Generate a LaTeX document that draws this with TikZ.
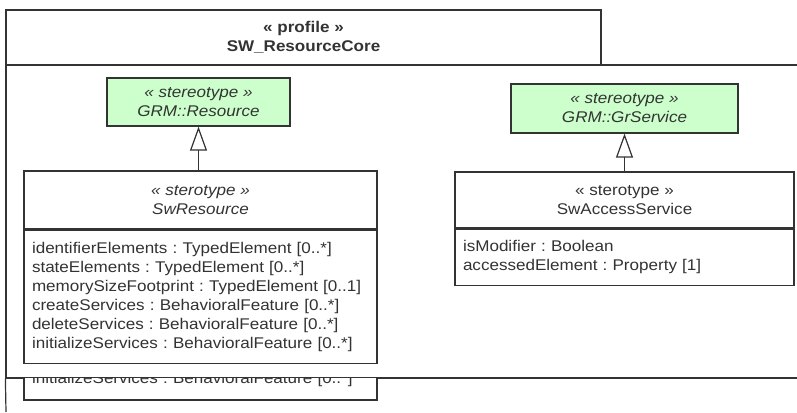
\documentclass[tikz,border=0pt]{standalone}
\usepackage{fontspec}
\setmainfont[FakeStretch=1.1]{Liberation Sans}
\usetikzlibrary{arrows.meta}
\frenchspacing

\begin{document}
\begin{tikzpicture}[
    x=1pt, y=-1pt,
    font=\fontsize{15.5}{19}\selectfont,
    frame/.style={rectangle, draw=black!80, line width=1.2pt, fill=white, text=black!80, align=center, inner sep=0pt},
    stereo/.style={rectangle, draw=black!80, line width=1.3pt, fill=green!20, text=black!80, align=center, font=\fontsize{15.5}{19}\selectfont\itshape},
    head/.style={rectangle, draw=black!80, line width=1.3pt, fill=white, text=black!80, align=center},
    attrs/.style={rectangle, draw=black!80, line width=1.3pt, fill=white, text=black!80, align=left, inner xsep=8pt},
    gen/.style={line width=1.2pt, draw=black!80, -{Triangle[open, length=24pt, width=17pt]}}
]
\clip (0,0) rectangle (797,412);
\fill[white] (0,0) rectangle (797,412);

% --- Profile frame ---
\node (body) at (408,221.5) [frame, minimum width=804pt, minimum height=313pt] {};
\node (tab) at (303.5,37.5) [frame, minimum width=595pt, minimum height=55pt, font=\fontsize{15.5}{19}\selectfont\bfseries] {« profile »\\ SW\_ResourceCore};
\coordinate (frame_end) at (6,412);

% --- Stereotypes ---
\node (grm_res) at (198.5,102) [stereo, minimum width=183pt, minimum height=48pt] {« stereotype »\\ GRM::Resource};
\node (grm_srv) at (624.5,108.5) [stereo, minimum width=227pt, minimum height=49pt] {« stereotype »\\ GRM::GrService};

% SwResource
\node (swres_head) at (200.5,200) [head, minimum width=353pt, minimum height=58pt, font=\fontsize{15.5}{19}\selectfont\itshape] {« sterotype »\\ SwResource};
\node (swres_attr) at (swres_head.south) [attrs, anchor=north, minimum width=353pt, minimum height=133pt, text width=337pt] {identifierElements : TypedElement [0..*]\\ stateElements : TypedElement [0..*]\\ memorySizeFootprint : TypedElement [0..1]\\ createServices : BehavioralFeature [0..*]\\ deleteServices : BehavioralFeature [0..*]\\ initializeServices : BehavioralFeature [0..*]};

% SwAccessService
\node (swacc_head) at (624.5,200) [head, minimum width=339pt, minimum height=56pt] {« sterotype »\\ SwAccessService};
\node (swacc_attr) at (swacc_head.south) [attrs, anchor=north, minimum width=339pt, minimum height=56pt, text width=323pt] {isModifier : Boolean\\ accessedElement : Property [1]};

% --- Generalizations ---
\draw [gen] (swres_head.north -| grm_res.south) -- (grm_res.south);
\draw [gen] (swacc_head.north) -- (grm_srv.south);

% strip below the frame
\begin{scope}
  \clip (0,378.6) rectangle (797,412);
  \node (swres_ghost) at (200.5,379) [attrs, minimum width=353pt, minimum height=42pt, text width=337pt] {initializeServices : BehavioralFeature [0..*]};
\end{scope}
\draw [line width=1.2pt, draw=black!80] (body.south west) -- (frame_end);

\end{tikzpicture}
\end{document}
